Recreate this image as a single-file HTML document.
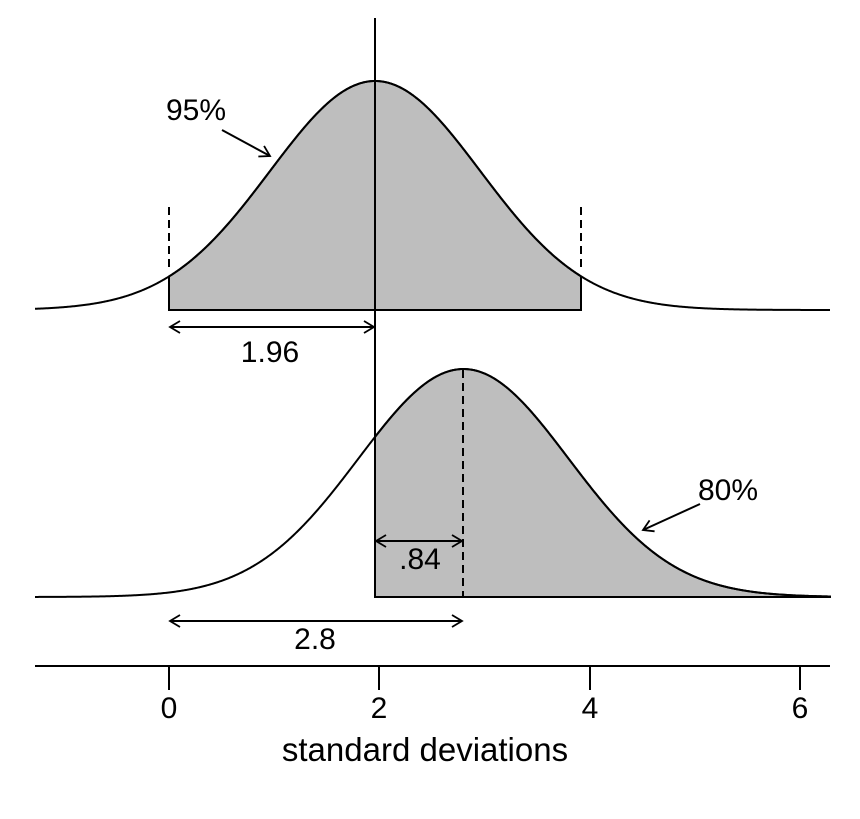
<!DOCTYPE html>
<html><head><meta charset="utf-8"><style>
html,body{margin:0;padding:0;background:#fff;}
svg{display:block;}
text{font-family:"Liberation Sans",Arial,sans-serif;fill:#000;}
</style></head><body>
<svg id="s" width="860" height="819" viewBox="0 0 860 819" xmlns="http://www.w3.org/2000/svg">
<defs>
<marker id="ah" markerWidth="14" markerHeight="14" refX="12" refY="7" orient="auto-start-reverse" markerUnits="userSpaceOnUse">
<path d="M2,1 L12,7 L2,13" fill="none" stroke="#000" stroke-width="1.8"/>
</marker>
</defs>
<g id="g"></g>
<line x1="375" y1="18" x2="375" y2="597" stroke="#000" stroke-width="2"/>
<line x1="169" y1="207" x2="169" y2="272" stroke="#000" stroke-width="2" stroke-dasharray="8,5"/>
<line x1="581" y1="207" x2="581" y2="272" stroke="#000" stroke-width="2" stroke-dasharray="8,5"/>
<line x1="463" y1="370" x2="463" y2="597" stroke="#000" stroke-width="2" stroke-dasharray="8,5"/>
<line x1="170" y1="327" x2="374" y2="327" stroke="#000" stroke-width="2" marker-start="url(#ah)" marker-end="url(#ah)"/>
<text x="270" y="362" font-size="30" text-anchor="middle">1.96</text>
<line x1="376" y1="541" x2="462" y2="541" stroke="#000" stroke-width="2" marker-start="url(#ah)" marker-end="url(#ah)"/>
<text x="420" y="569" font-size="30" text-anchor="middle">.84</text>
<line x1="170" y1="621" x2="462" y2="621" stroke="#000" stroke-width="2" marker-start="url(#ah)" marker-end="url(#ah)"/>
<text x="315" y="649" font-size="30" text-anchor="middle">2.8</text>
<text x="196" y="120" font-size="30" text-anchor="middle">95%</text>
<line x1="222" y1="130" x2="270" y2="156" stroke="#000" stroke-width="2" marker-end="url(#ah)"/>
<text x="728" y="500" font-size="30" text-anchor="middle">80%</text>
<line x1="700" y1="504" x2="643" y2="530" stroke="#000" stroke-width="2" marker-end="url(#ah)"/>
<line x1="35" y1="666" x2="830" y2="666" stroke="#000" stroke-width="2"/>
<line x1="169" y1="666" x2="169" y2="690" stroke="#000" stroke-width="2"/>
<line x1="379" y1="666" x2="379" y2="690" stroke="#000" stroke-width="2"/>
<line x1="590" y1="666" x2="590" y2="690" stroke="#000" stroke-width="2"/>
<line x1="800" y1="666" x2="800" y2="690" stroke="#000" stroke-width="2"/>
<text x="169" y="718" font-size="30" text-anchor="middle">0</text>
<text x="379" y="718" font-size="30" text-anchor="middle">2</text>
<text x="590" y="718" font-size="30" text-anchor="middle">4</text>
<text x="800" y="718" font-size="30" text-anchor="middle">6</text>
<text x="425" y="761" font-size="33" text-anchor="middle">standard deviations</text>
</svg>
<script>
(function(){
var X0=169,S=105.17,g=document.getElementById('g');
function curve(mu,base,h,a,b){var d='';for(var p=a;p<=b;p+=1){var u=(p-X0)/S;var y=base-h*Math.exp(-0.5*(u-mu)*(u-mu));d+=(d?'L':'M')+p.toFixed(1)+','+y.toFixed(2);}return d;}
function add(d,fill){var e=document.createElementNS('http://www.w3.org/2000/svg','path');e.setAttribute('d',d);e.setAttribute('fill',fill);e.setAttribute('stroke','#000');e.setAttribute('stroke-width','2');g.appendChild(e);}
add(curve(1.96,310,229,169,581)+'L581,310L169,310Z','#bebebe');
add(curve(1.96,310,229,35,830),'none');
add(curve(2.8,597,228,375,830)+'L830,597L375,597Z','#bebebe');
add(curve(2.8,597,228,35,830),'none');
})();
</script>
</body></html>
